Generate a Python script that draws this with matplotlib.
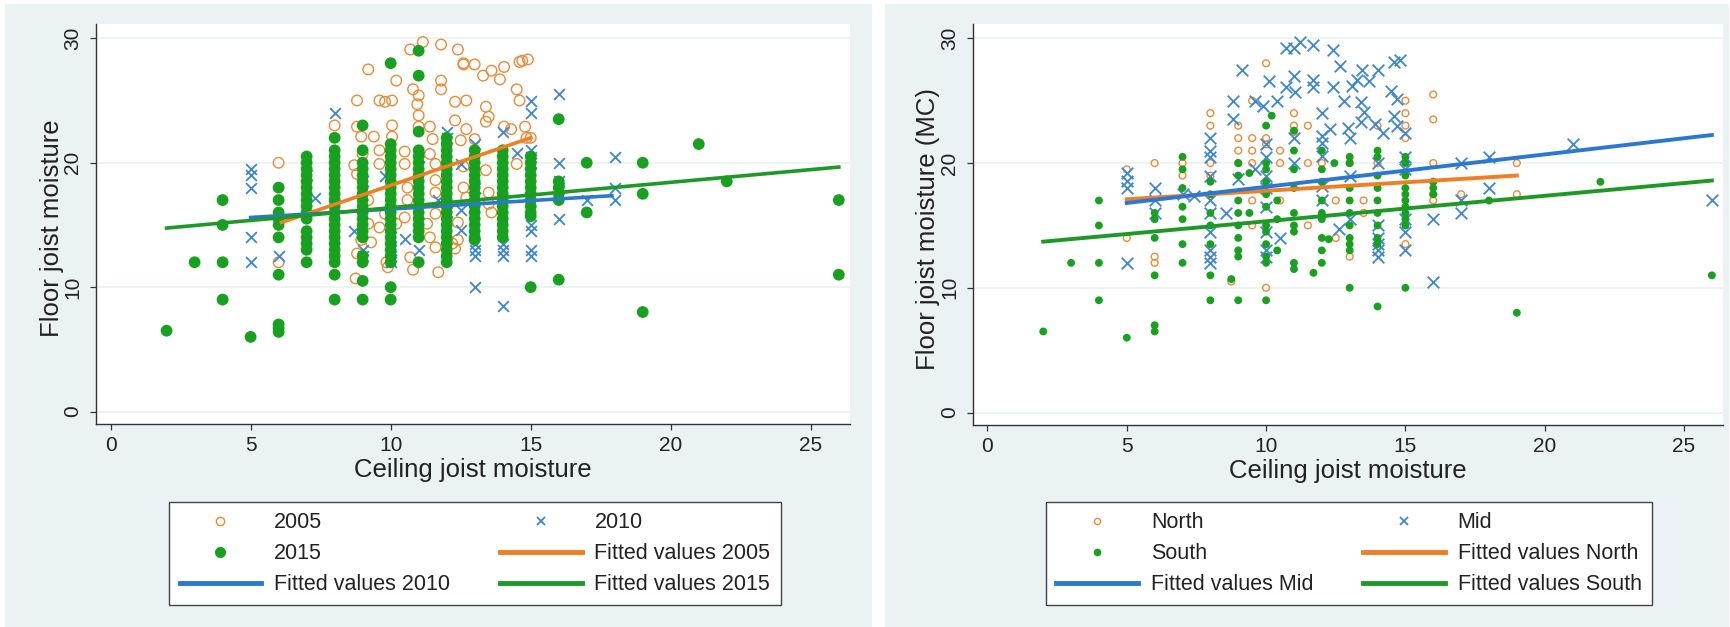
import matplotlib
matplotlib.use("Agg")
import matplotlib.pyplot as plt
from matplotlib.lines import Line2D
from matplotlib.patches import Rectangle

plt.rcParams['font.family'] = ['Liberation Sans', 'DejaVu Sans']

# ---- left panel: by survey year ----
# 2005 (hollow orange circles)
yr05_pts = [
    (6, 20), (6, 12), (8, 23), (8.8, 25), (9.2, 27.5), (9.6, 25), (9.8, 24.9), (10.05, 25),
    (10.2, 26.6), (10.8, 25.9), (11.0, 25.4), (11.15, 29.7), (10.7, 29.1), (11.8, 29.5),
    (12.4, 29.1), (11.8, 26.6), (11.8, 25.9), (12.6, 27.9), (13, 27.9), (12.3, 24.9),
    (12.7, 25.0), (13.3, 27), (13.6, 27.4), (14.05, 27.7), (13.9, 26.7), (14.6, 28.1),
    (14.9, 28.3), (14.5, 25.9), (14.6, 25.0), (13.4, 24.5), (13.5, 23.7), (13.4, 23.3),
    (13.0, 21.9), (14.05, 22.9), (14.3, 22.7), (14.8, 22.9), (15, 22.0), (14.5, 19.9),
    (13.6, 16.0), (8.8, 22.9), (8.95, 22.1), (9.0, 20.7), (8.7, 19.8), (8.8, 19.1),
    (9.4, 22.1), (9.6, 21.0), (9.6, 19.9), (10.05, 22.1), (10.05, 23.0), (10.5, 20.9),
    (10.5, 19.9), (11.0, 22.9), (11.0, 23.8), (10.95, 24.7), (11.4, 22.9), (11.5, 21.9),
    (11.4, 20.7), (11.6, 19.9), (11.6, 18.6), (11.6, 17.6), (12.3, 23.4), (12.7, 22.7),
    (12.5, 21.8), (12.6, 19.7), (12.6, 18.0), (12.7, 17.2), (13.5, 16.7), (10.6, 18.0),
    (10.6, 17.0), (10.5, 15.6), (10.2, 15.1), (9.8, 15.9), (9.2, 17.0), (9.2, 15.1),
    (9.6, 14.8), (9.3, 13.6), (8.8, 12.7), (8.95, 13.8), (8.75, 10.7), (9.85, 12.0),
    (9.9, 11.6), (10.7, 12.4), (10.8, 11.4), (11.7, 11.2), (11.6, 13.2), (12.3, 13.1),
    (12.4, 13.8), (11.4, 14.0), (11.6, 15.9), (11.3, 15.1), (13.5, 17.6), (13.4, 19.4),
    (12.2, 13.5), (12.4, 15.2), (12.6, 28.0), (14.7, 28.2), (14.85, 22.0),
]
# 2010 (blue crosses)
yr10_pts = [
    (5, 19.5), (5, 19), (5, 18), (5, 14), (5, 12), (6, 12.5), (7, 19), (7.3, 17.2), (8, 24),
    (8.7, 14.5), (9, 18.5), (9, 13), (9, 12.5), (9.8, 18.9), (10, 14), (10, 13), (10, 12.5),
    (10, 12), (10.5, 13.9), (11, 20.5), (11, 13), (11.7, 17), (12, 22.5), (12, 22), (12, 16),
    (12.5, 19.9), (12.5, 14.6), (12.5, 16.2), (13, 21.5), (13, 18), (13, 13.5), (13, 13),
    (13, 12.5), (13, 10), (14, 22.5), (14, 13.5), (14, 13), (14, 12.5), (14, 8.5),
    (14.5, 20.8), (15, 25), (15, 24), (15, 21), (15, 20.5), (15, 20), (15, 15), (15, 14.5),
    (15, 13), (15, 12.5), (16, 25.5), (16, 20), (16, 18.5), (16, 18), (16, 15.5), (17, 17),
    (18, 20.5), (18, 18), (18, 17),
]
# 2015 (filled green), ceiling value -> floor values in that column
yr15_cols = {
    2: [6.5],
    3: [12],
    4: [17, 15, 12, 9],
    5: [6],
    6: [18, 17, 16, 15.5, 15, 14, 11, 7, 6.7, 6.4],
    7: [20.5, 20, 19.5, 19, 18.5, 18, 17.5, 17, 16.5, 16, 15.5, 14.5, 14, 13.5, 13, 12],
    8: [22, 21, 20.5, 20, 19.5, 19, 18.5, 18, 17.5, 17, 16.5, 16, 15.5, 15, 14.5, 14,
        13.5, 13, 12.5, 12, 11, 9],
    9: [23, 21, 20, 19.5, 19, 18.5, 18, 17.5, 17, 16.5, 16, 15.5, 15, 14.5, 14, 12.5, 12,
        10.5, 9],
    10: [28, 21.5, 21, 20.5, 20, 19.5, 19, 18.5, 18, 17.5, 17, 16.5, 16, 15.5, 15, 14.5,
         14, 13.5, 13, 12.5, 12, 10, 9],
    11: [29, 27, 22.5, 21, 20.5, 20, 19.5, 19, 18.5, 18, 17.5, 17, 16.5, 16, 15.5, 15,
         14.5, 14, 12],
    12: [22, 21.5, 21, 20.5, 20, 19.5, 19, 18.5, 18, 17.5, 17, 16.5, 16, 15.5, 15, 14.5,
         14, 13.5, 13, 12.5, 12],
    13: [21, 20.5, 20, 19.5, 19, 18.5, 18, 17.5, 17, 16.5, 16, 15.5, 15, 14.5, 14, 13.8],
    14: [21, 20.5, 20, 19.5, 19, 18.5, 18, 17.5, 17, 16.5, 16, 15.5, 15, 14.5, 14],
    15: [20.5, 20, 19.5, 19, 18.5, 18, 17.5, 17, 16.5, 16, 15.7, 10],
    16: [23.5, 18.5, 18, 17.5, 17, 10.6],
    17: [20, 16],
    19: [20, 17.5, 8],
    21: [21.5],
    22: [18.5],
    26: [17, 11],
}
# fitted lines (endpoints)
fit05_x, fit05_y = [6.1, 15], [15.2, 22.0]
fit10_x, fit10_y = [5, 17.9], [15.6, 17.35]
fit15_x, fit15_y = [2, 26], [14.75, 19.65]

# ---- right panel: by region ----
north_pts = [
    (5, 19.5), (5, 14), (6, 20), (6, 12.5), (6, 12), (7, 20), (7, 19), (8, 24), (8, 23),
    (8, 20), (8, 19), (8.75, 10.5), (9, 23), (9, 22), (9, 21), (9, 20), (9.5, 25), (9.5, 22),
    (9.5, 21), (9.5, 20), (9.5, 17), (9.5, 15), (10, 28), (10, 22), (10, 21.5), (10, 10),
    (10.5, 21), (10.5, 20), (10.5, 17), (11, 24), (11, 23), (11, 22.5), (11.5, 23),
    (11.5, 20), (11.5, 15), (12, 20), (12.5, 17), (12.5, 14), (13, 20), (13, 12.5),
    (13.5, 17), (13.5, 16), (14, 23), (14, 20), (15, 25), (15, 24), (15, 23), (15, 22),
    (15, 13.5), (16, 25.5), (16, 23.5), (16, 20), (16, 18.5), (16, 17.5), (16, 17),
    (17, 17.5), (19, 20), (19, 17.5),
]
mid_pts = [
    (5, 19.2), (5, 18.6), (5, 18), (5, 12), (6, 18), (6, 17), (6, 16), (7, 17.5), (7.4, 17.4),
    (8, 22), (8, 21), (8, 20.5), (8, 19), (8, 17), (8, 16), (8, 14.5), (8, 13), (8, 12.5),
    (8, 12), (8.8, 25), (8.8, 23.5), (9.15, 27.5), (9.6, 19.5), (9, 18.7), (8.55, 16),
    (9.6, 25), (9.9, 24.6), (10.1, 26.6), (10.4, 25), (10, 21.5), (10, 20.5), (10, 19),
    (10, 18), (10, 16.5), (10, 14.5), (10, 13), (10, 12.5), (10.5, 14), (10.7, 29.2),
    (11, 29.2), (11.2, 29.7), (11.7, 29.5), (12.4, 29.1), (11, 27), (11.05, 25.7),
    (10.7, 26.1), (11, 22), (11, 20), (11.7, 26.7), (11.7, 26.1), (12, 24), (12, 22.2),
    (12, 21.6), (12, 20.6), (12, 18.2), (12, 17), (12.3, 22.7), (12.4, 26.1), (12.65, 27.8),
    (12.8, 25), (12.95, 22.8), (13, 22), (13, 19), (13, 15.5), (12.6, 14.7), (13.25, 26.7),
    (13.45, 27.5), (13.1, 26.2), (13.7, 26.6), (13.4, 24.9), (13.5, 24.1), (13.4, 23.3),
    (14, 27.5), (13.9, 23.1), (14.2, 22.4), (14.6, 28.1), (14.8, 28.3), (14.5, 25.8),
    (14.7, 25.1), (14.6, 23.8), (14.7, 23), (15, 22.4), (15, 20.5), (14, 20), (14, 15),
    (14, 14), (14, 13.5), (14, 13), (14, 12.5), (15, 19.5), (15, 15.5), (15, 14.5), (15, 13),
    (16, 15.5), (16, 10.5), (17, 20), (17, 17), (17, 16), (18, 20.5), (18, 18), (21, 21.5),
    (26, 17),
]
south_pts = [
    (2, 6.5), (3, 12), (4, 17), (4, 15), (4, 12), (4, 9), (5, 6), (6, 16), (6, 15.5), (6, 14),
    (6, 11), (6, 7), (6, 6.5), (7, 20.5), (7, 19.5), (7, 18), (7, 16.5), (7, 15.5), (7, 13.5),
    (7, 12), (8, 18.5), (8, 17.5), (8, 16), (8, 15), (8, 13.5), (8, 11), (8, 9), (8.75, 10.7),
    (9, 9), (10, 9), (9, 20), (9, 19), (9, 17), (9, 16), (9, 15), (9, 14), (9, 13), (9, 12.5),
    (9.4, 19.2), (9.4, 16), (10, 23), (10, 20), (10, 19.5), (10, 18.5), (10, 17.5),
    (10, 16.5), (10, 15), (10, 14.5), (10, 13.5), (10, 12.5), (10, 12), (10.2, 23.8),
    (10.4, 17), (10.4, 15.5), (10.4, 13), (11, 22.6), (11, 21), (11, 19.5), (11, 18), (11, 16),
    (11, 15), (11, 14.5), (11, 12), (11, 11.5), (11.7, 11.2), (12, 21), (12, 19.5), (12, 18.5),
    (12, 17), (12, 16), (12, 15.5), (12, 14), (12, 13), (12, 12), (12.25, 13.9), (12.45, 20),
    (13, 20.5), (13, 20), (13, 18), (13, 17), (13, 16), (13, 15), (13, 14), (13, 13.5),
    (13, 13), (13, 10), (14, 21), (14, 20.5), (14, 19), (14, 18), (14, 17), (14, 16), (14, 15),
    (14, 14), (14, 13.5), (14, 8.5), (15, 20.5), (15, 20), (15, 19), (15, 18), (15, 17.5),
    (15, 17), (15, 16.5), (15, 16), (15, 15.5), (15, 15), (15, 10), (16, 18.5), (16, 18),
    (16, 17.5), (18, 17), (19, 8), (22, 18.5), (26, 11),
]
fitN_x, fitN_y = [5, 19], [17.1, 19.0]
fitM_x, fitM_y = [5, 26], [16.8, 22.25]
fitS_x, fitS_y = [2, 26], [13.7, 18.6]

left_labels = ['2005', '2010', '2015', 'Fitted values 2005', 'Fitted values 2010',
               'Fitted values 2015']
right_labels = ['North', 'Mid', 'South', 'Fitted values North', 'Fitted values Mid',
                'Fitted values South']

ORANGE = '#EC8A35'
ORANGE_L = '#EE7F22'
BLUE = '#3B86D6'
BLUE_L = '#2A78D2'
GREEN = '#17A11E'
GREEN_L = '#1E9928'
BG = '#EAF2F3'
W, H = 1731, 627


def xy(pts):
    return [p[0] for p in pts], [p[1] for p in pts]


def cols_xy(cols):
    xs, ys = [], []
    for k, v in cols.items():
        xs += [k] * len(v)
        ys += v
    return xs, ys


fig = plt.figure(figsize=(W / 100, H / 100), dpi=100, facecolor='white')
fig.patches.append(Rectangle((5 / W, 0), 867 / W, 623 / H, transform=fig.transFigure,
                             facecolor=BG, edgecolor='none', zorder=-10))
fig.patches.append(Rectangle((885 / W, 0), 844 / W, 623 / H, transform=fig.transFigure,
                             facecolor=BG, edgecolor='none', zorder=-10))

ax1 = fig.add_axes([96 / W, 1 - 424 / H, 754 / W, 400 / H])
ax2 = fig.add_axes([973 / W, 1 - 425 / H, 750 / W, 401 / H])

for ax in (ax1, ax2):
    ax.set_facecolor('white')
    ax.set_xlim(-0.52, 26.4)
    ax.set_ylim(-1.0, 31.15)
    ax.set_xticks([0, 5, 10, 15, 20, 25])
    ax.set_yticks([0, 10, 20, 30])
    for y in [0, 10, 20, 30]:
        ax.axhline(y, color=BG, lw=1.2, zorder=0)
    for s in ['top', 'right']:
        ax.spines[s].set_visible(False)
    for s in ['left', 'bottom']:
        ax.spines[s].set_color('#333333')
        ax.spines[s].set_linewidth(1.0)
    ax.tick_params(length=4.5, width=0.9, color='#333333', labelsize=15, labelcolor='#222222')
    ax.tick_params(axis='x', pad=3.8)
    ax.tick_params(axis='y', pad=5.5)
    plt.setp(ax.get_yticklabels(), rotation=90, va='center')
    ax.set_xlabel('Ceiling joist moisture', fontsize=18.5, color='#222222')
    ax.xaxis.set_label_coords(0.5, -0.086)

ax1.set_ylabel('Floor joist moisture', fontsize=18.5, color='#222222')
ax1.yaxis.set_label_coords(-0.043, 0.49)
ax2.set_ylabel('Floor joist moisture (MC)', fontsize=18.5, color='#222222')
ax2.yaxis.set_label_coords(-0.044, 0.49)

# left panel
x, y = xy(yr05_pts)
ax1.scatter(x, y, s=58, facecolors='none', edgecolors=ORANGE, linewidths=1.0, zorder=2)
x, y = xy(yr10_pts)
ax1.scatter(x, y, s=60, marker='x', color=BLUE, linewidths=1.3, zorder=3)
x, y = cols_xy(yr15_cols)
ax1.scatter(x, y, s=72, color=GREEN, edgecolors='none', zorder=4)
ax1.plot(fit05_x, fit05_y, color=ORANGE_L, lw=2.6, zorder=5)
ax1.plot(fit10_x, fit10_y, color=BLUE_L, lw=2.6, zorder=6)
ax1.plot(fit15_x, fit15_y, color=GREEN_L, lw=2.6, zorder=7)

# right panel
x, y = xy(north_pts)
ax2.scatter(x, y, s=24, facecolors='none', edgecolors=ORANGE, linewidths=1.0, zorder=2)
x, y = xy(mid_pts)
ax2.scatter(x, y, s=70, marker='x', color=BLUE, linewidths=1.3, zorder=3)
x, y = xy(south_pts)
ax2.scatter(x, y, s=32, color=GREEN, edgecolors='none', zorder=4)
ax2.plot(fitN_x, fitN_y, color=ORANGE_L, lw=2.8, zorder=5)
ax2.plot(fitM_x, fitM_y, color=BLUE_L, lw=2.8, zorder=6)
ax2.plot(fitS_x, fitS_y, color=GREEN_L, lw=2.8, zorder=7)


def legend(ax, labels, ms_o, ms_x, ms_d, cx):
    h_o = Line2D([], [], ls='none', marker='o', ms=ms_o, mfc='none', mec=ORANGE, mew=1.0)
    h_x = Line2D([], [], ls='none', marker='x', ms=ms_x, color=BLUE, mew=1.3)
    h_d = Line2D([], [], ls='none', marker='o', ms=ms_d, color=GREEN, mec='none')
    f_o = Line2D([], [], color=ORANGE_L, lw=3.5)
    f_x = Line2D([], [], color=BLUE_L, lw=3.5)
    f_d = Line2D([], [], color=GREEN_L, lw=3.5)
    # two columns filled row by row
    hs = [h_o, h_d, f_x, h_x, f_o, f_d]
    ls = [labels[0], labels[2], labels[4], labels[1], labels[3], labels[5]]
    lg = ax.legend(hs, ls, ncol=2, loc='upper center', bbox_to_anchor=(cx / W, 1 - 502 / H),
                   bbox_transform=fig.transFigure, fontsize=15.5, frameon=True,
                   fancybox=False, edgecolor='#444444', facecolor='white', framealpha=1,
                   handlelength=3.8, handletextpad=0.6, columnspacing=2.3,
                   labelspacing=0.47, borderpad=0.47, borderaxespad=0)
    lg.get_frame().set_linewidth(1.0)
    for t in lg.get_texts():
        t.set_color('#222222')


legend(ax1, left_labels, 6, 6, 8, 475)
legend(ax2, right_labels, 4.5, 6, 5.5, 1349)

fig.savefig('out.png', dpi=100, facecolor='white')
